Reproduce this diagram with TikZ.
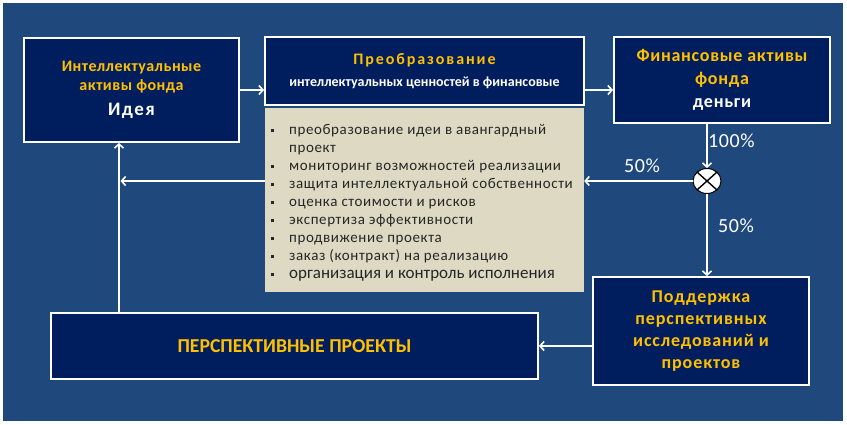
\documentclass[tikz,border=0pt]{standalone}
\usepackage{fontspec}
\setmainfont{Carlito}
\usetikzlibrary{arrows.meta,shapes.geometric}
\definecolor{bgblue}{RGB}{31,73,125}
\definecolor{navy}{RGB}{0,30,94}
\definecolor{gold}{RGB}{255,192,0}
\definecolor{beige}{RGB}{221,217,195}
\definecolor{txtgray}{RGB}{38,38,38}
\newcommand{\fs}[3]{\fontsize{#1}{#2}\selectfont\addfontfeatures{LetterSpace=#3}}
\newcommand{\bul}{\rule[2.5pt]{3pt}{3pt}}
\tikzset{
  x=1pt,y=-1pt,
  dbox/.style={draw=white,line width=2pt,fill=navy,inner sep=0pt,align=center,text=gold},
  arr/.style={draw=white,line width=2.2pt,-{Straight Barb[length=4pt,width=9pt,line width=1.6pt]}},
  pct/.style={text=white,font=\fs{20}{20}{3},inner sep=0pt},
}
\begin{document}
\begin{tikzpicture}
\useasboundingbox (0,0) rectangle (847,424);
\fill[white] (0,0) rectangle (847,424);
\fill[bgblue] (3,3) rectangle (843,421);

\node[dbox,minimum width=215,minimum height=104,font=\bfseries\fs{16}{19}{3}] (idea) at (131.5,90)
  {Интеллектуальные\\активы фонда\\[6pt]{\fs{19}{19}{8}\color{white}Идея}};
\node[dbox,minimum width=319,minimum height=68,font=\bfseries\fs{16}{19}{12}] (conv) at (424.5,71)
  {Преобразование\\[3pt]{\fs{14}{14}{0}\color{white}интеллектуальных ценностей в финансовые}};
\node[draw=none,fill=beige,minimum width=319,minimum height=184,inner sep=0pt] (list) at (424.5,200) {};
\node[dbox,minimum width=216,minimum height=86,font=\bfseries\fs{18}{23}{4}] (fin) at (722,80)
  {Финансовые активы\\фонда\\{\color{white}деньги}};
\node[draw=black,line width=1pt,fill=white,ellipse,minimum width=28,minimum height=25,inner sep=0pt] (circ) at (707,181) {};
\draw[black,line width=1.4pt] (circ.north west) -- (circ.south east) (circ.north east) -- (circ.south west);
\node[dbox,minimum width=216,minimum height=108,font=\bfseries\fs{18}{22}{5}] (supp) at (701,331)
  {Поддержка\\перспективных\\исследований и\\проектов};
\node[dbox,minimum width=487,minimum height=66,font=\bfseries\fs{19.7}{20}{0}] (proj) at (294.5,346)
  {ПЕРСПЕКТИВНЫЕ ПРОЕКТЫ};

\node[anchor=north west,text=txtgray,inner sep=0pt,font=\fs{15}{18}{4}] (items) at (271,122)
{\begin{tabular}[t]{@{}l@{\hspace{15pt}}l@{}}
\bul & преобразование идеи в авангардный\\
 & проект\\
\bul & мониторинг возможностей реализации\\
\bul & защита интеллектуальной собственности\\
\bul & оценка стоимости и рисков\\
\bul & экспертиза эффективности\\
\bul & продвижение проекта\\
\bul & заказ (контракт) на реализацию\\
\bul & {\fs{17}{18}{0}организация и контроль исполнения}
\end{tabular}};

\coordinate (vt) at (119,141);
\draw[arr] (idea.east) -- (idea.east -| conv.west);
\draw[arr] (conv.east |- idea.east) -- (fin.west |- idea.east);
\draw[arr] (fin.south -| circ) -- (circ.north);
\draw[arr] (circ.west) -- (circ.west -| list.east);
\draw[arr] (list.west |- circ) -- ([xshift=1.5pt]vt |- circ);
\draw[arr] (proj.north -| vt) -- (idea.south -| vt);
\draw[arr] (circ.south) -- (supp.north -| circ);
\draw[arr] (supp.west |- proj.east) -- (proj.east);

\node[pct,anchor=west] (p100) at (708,141) {100\%};
\node[pct] (p50a) at (642,166) {50\%};
\node[pct] (p50b) at (736,226) {50\%};
\end{tikzpicture}
\end{document}
